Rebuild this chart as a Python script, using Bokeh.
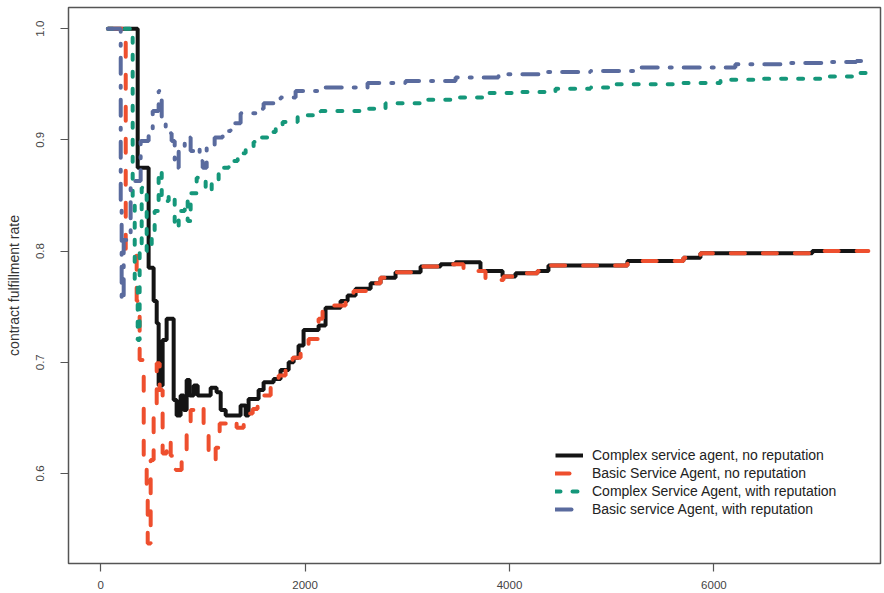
from bokeh.plotting import figure
from bokeh.models import FixedTicker, Legend, LegendItem
from bokeh.embed import file_html
from bokeh.resources import INLINE

# ---- data ----
black_x = [70, 362, 469, 518, 548, 567, 606, 645, 714, 743, 782, 812, 841, 870, 910, 949, 1027,
           1076, 1134, 1174, 1223, 1369, 1418, 1447, 1545, 1594, 1692, 1760, 1839, 1888, 1936, 1985,
           2132, 2200, 2347, 2416, 2494, 2641, 2738, 2885, 3130, 3325, 3472, 3716, 3932, 4059, 4274,
           4381, 5154, 5702, 5868, 6963, 7511]
black_y = [1.0, 0.875, 0.785, 0.755, 0.735, 0.679, 0.72, 0.739, 0.666, 0.652, 0.670, 0.657, 0.684,
           0.670, 0.679, 0.670, 0.670, 0.677, 0.673, 0.657, 0.652, 0.661, 0.652, 0.667, 0.675, 0.682,
           0.685, 0.693, 0.700, 0.704, 0.715, 0.729, 0.733, 0.749, 0.755, 0.760, 0.766, 0.771, 0.776,
           0.781, 0.786, 0.788, 0.790, 0.782, 0.777, 0.780, 0.782, 0.787, 0.791, 0.794, 0.798, 0.800,
           0.800]

red_x = [70, 245, 352, 381, 421, 450, 460, 489, 518, 548, 577, 606, 645, 685, 734, 792, 841, 880,
         939, 1007, 1056, 1086, 1125, 1164, 1271, 1330, 1399, 1487, 1535, 1594, 1663, 1741, 1809,
         1878, 1956, 2034, 2132, 2171, 2249, 2396, 2474, 2641, 2738, 2885, 3130, 3325, 3550, 3765,
         3941, 4059, 4274, 4381, 5154, 5702, 5868, 6963, 7511]
red_y = [1.0, 0.80, 0.755, 0.702, 0.616, 0.576, 0.537, 0.612, 0.654, 0.699, 0.675, 0.618, 0.630,
         0.616, 0.603, 0.612, 0.641, 0.657, 0.661, 0.639, 0.616, 0.612, 0.623, 0.645, 0.648, 0.641,
         0.654, 0.658, 0.663, 0.670, 0.677, 0.688, 0.694, 0.704, 0.713, 0.721, 0.739, 0.747, 0.751,
         0.757, 0.764, 0.771, 0.776, 0.781, 0.786, 0.788, 0.782, 0.774, 0.777, 0.780, 0.782, 0.787,
         0.791, 0.794, 0.798, 0.800, 0.800]

green_x = [70, 313, 333, 362, 381, 401, 450, 499, 528, 567, 597, 665, 724, 763, 822, 851, 880, 939,
           1027, 1086, 1154, 1252, 1340, 1418, 1496, 1565, 1633, 1712, 1780, 1927, 2152, 2543, 2787,
           3130, 3472, 3765, 4108, 4450, 4792, 5037, 5672, 6064, 6455, 7091, 7433, 7511]
green_y = [1.0, 0.845, 0.773, 0.72, 0.80, 0.857, 0.80, 0.818, 0.836, 0.872, 0.845, 0.85, 0.821,
           0.836, 0.845, 0.827, 0.852, 0.866, 0.854, 0.863, 0.875, 0.881, 0.888, 0.893, 0.898, 0.902,
           0.907, 0.912, 0.916, 0.922, 0.926, 0.928, 0.933, 0.936, 0.938, 0.942, 0.943, 0.946, 0.947,
           0.950, 0.951, 0.954, 0.955, 0.957, 0.960, 0.960]

blue_x = [70, 196, 205, 225, 293, 391, 469, 509, 567, 597, 636, 694, 724, 763, 822, 880, 939, 968,
          998, 1037, 1115, 1193, 1271, 1369, 1516, 1594, 1760, 1907, 2152, 2611, 2983, 3472, 3892,
          4352, 4792, 5262, 6210, 6699, 7139, 7394, 7511]
blue_y = [1.0, 0.845, 0.755, 0.81, 0.863, 0.899, 0.91, 0.926, 0.944, 0.92, 0.906, 0.899, 0.875,
          0.893, 0.902, 0.89, 0.893, 0.881, 0.875, 0.893, 0.902, 0.908, 0.915, 0.924, 0.928, 0.933,
          0.938, 0.944, 0.947, 0.951, 0.953, 0.956, 0.959, 0.961, 0.962, 0.965, 0.968, 0.969, 0.970,
          0.971, 0.971]

labels = ["Complex service agent, no reputation",
          "Basic Service Agent, no reputation",
          "Complex Service Agent, with reputation",
          "Basic service Agent, with reputation"]
x_ticks = [0, 2000, 4000, 6000]
y_ticks = [0.6, 0.7, 0.8, 0.9, 1.0]

FONT = "Liberation Sans"

p = figure(width=882, height=592, x_range=(-315, 7630), y_range=(0.519, 1.019),
           output_backend="svg", toolbar_location=None,
           min_border_left=68, min_border_right=2, min_border_top=7, min_border_bottom=29)
p.grid.visible = False
p.background_fill_color = "white"
p.border_fill_color = "white"
p.outline_line_color = "#555555"
p.outline_line_width = 1.5

r_black = p.step(black_x, black_y, mode="after", line_color="#141414", line_width=4)
r_red = p.step(red_x, red_y, mode="after", line_color="#EE4F2E", line_width=4,
               line_dash="14 18", line_cap="round")
r_green = p.step(green_x, green_y, mode="after", line_color="#15977A", line_width=4,
                 line_dash="5 12", line_cap="round")
r_blue = p.step(blue_x, blue_y, mode="after", line_color="#5A6B9E", line_width=4,
                line_dash="16 12 2 12", line_cap="round")

for ax in (p.xaxis[0], p.yaxis[0]):
    ax.axis_line_color = None
    ax.major_tick_line_color = "#555555"
    ax.major_tick_line_width = 1.2
    ax.major_tick_out = 8
    ax.major_tick_in = 0
    ax.minor_tick_line_color = None
    ax.major_label_text_font = FONT
    ax.major_label_text_font_size = "11.5px"
    ax.major_label_text_color = "#444444"

p.xaxis.ticker = FixedTicker(ticks=x_ticks)
p.xaxis.major_label_overrides = {t: str(t) for t in x_ticks}
p.xaxis.major_label_standoff = 9

p.yaxis.ticker = FixedTicker(ticks=y_ticks)
p.yaxis.major_label_overrides = {t: f"{t:.1f}" for t in y_ticks}
p.yaxis.major_label_orientation = "vertical"
p.yaxis.major_label_standoff = 16
p.yaxis.axis_label = "contract fulfillment rate"
p.yaxis.axis_label_text_font = FONT
p.yaxis.axis_label_text_font_size = "14px"
p.yaxis.axis_label_text_font_style = "normal"
p.yaxis.axis_label_text_color = "#333333"
p.yaxis.axis_label_standoff = 12

legend = Legend(items=[LegendItem(label=labels[0], renderers=[r_black]),
                       LegendItem(label=labels[1], renderers=[r_red]),
                       LegendItem(label=labels[2], renderers=[r_green]),
                       LegendItem(label=labels[3], renderers=[r_blue])],
                location=(487, 46), padding=0, spacing=2, margin=0,
                glyph_width=28, glyph_height=12, label_height=12, label_standoff=9,
                label_text_font=FONT, label_text_font_size="14px",
                label_text_color="#222222", border_line_color=None,
                background_fill_alpha=0)
p.add_layout(legend, "center")

open("out.html", "w").write(file_html(p, INLINE))
